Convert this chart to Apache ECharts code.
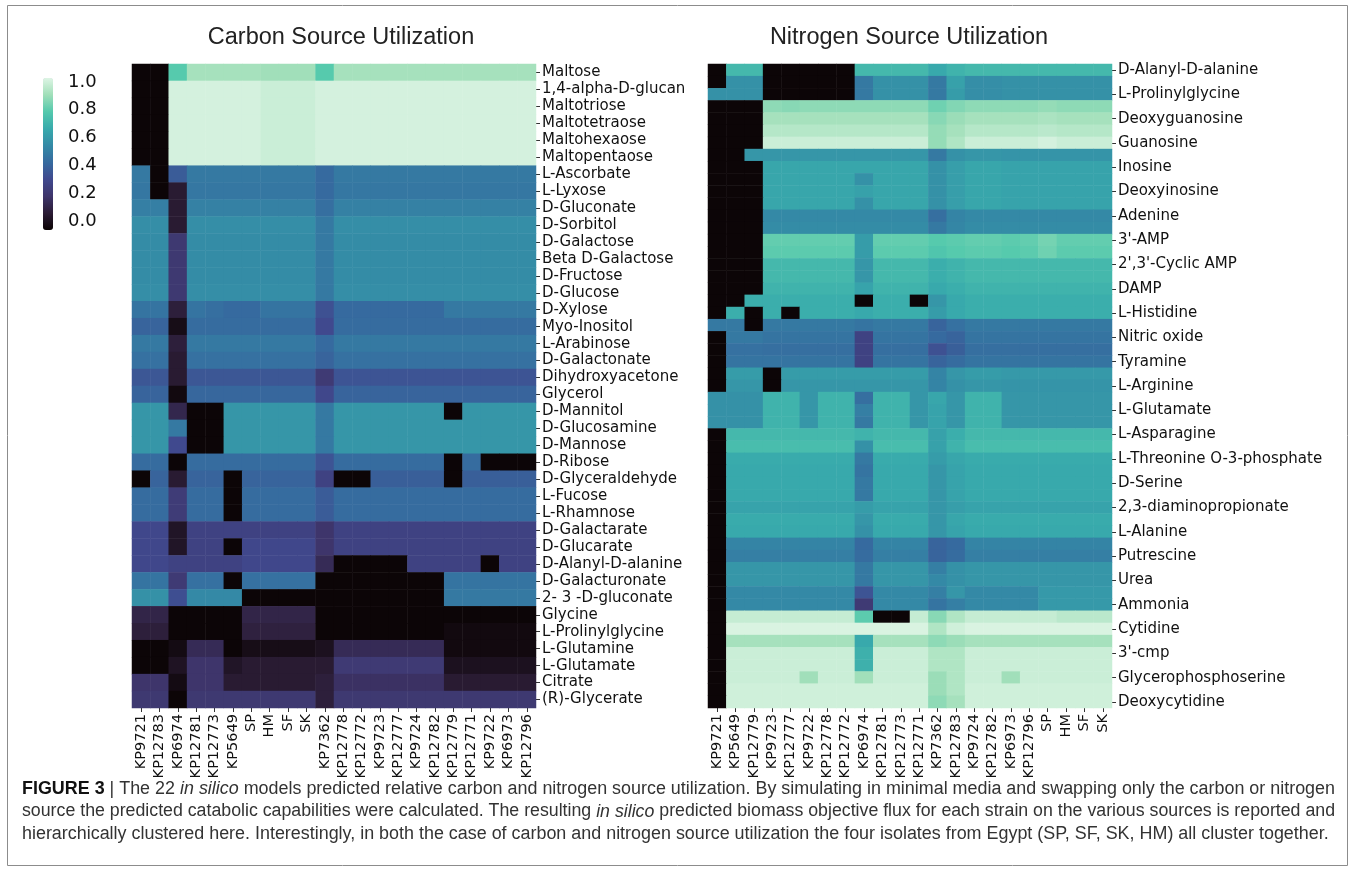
<!DOCTYPE html>
<html><head><meta charset="utf-8">
<script src="https://cdn.jsdelivr.net/npm/echarts@6/dist/echarts.min.js"></script>
<style>html,body{margin:0;padding:0;background:#fff}#c{width:1355px;height:895px}</style>
</head><body><div id="c"></div>
<script>
const Z = -0.06; // black cells (bottom of the colour bar)

const carbonCols = ['KP9721','KP12783','KP6974','KP12781','KP12773','KP5649','SP','HM','SF','SK','KP7362','KP12778','KP12772','KP9723','KP12777','KP9724','KP12782','KP12779','KP12771','KP9722','KP6973','KP12796'];

const carbonRows = ['Maltose','1,4-alpha-D-glucan','Maltotriose','Maltotetraose','Maltohexaose','Maltopentaose','L-Ascorbate','L-Lyxose','D-Gluconate','D-Sorbitol','D-Galactose','Beta D-Galactose','D-Fructose','D-Glucose','D-Xylose','Myo-Inositol','L-Arabinose','D-Galactonate','Dihydroxyacetone','Glycerol','D-Mannitol','D-Glucosamine','D-Mannose','D-Ribose','D-Glyceraldehyde','L-Fucose','L-Rhamnose','D-Galactarate','D-Glucarate','D-Alanyl-D-alanine','D-Galacturonate','2- 3 -D-gluconate','Glycine','L-Prolinylglycine','L-Glutamine','L-Glutamate','Citrate','(R)-Glycerate'];

const carbonValues = [
 [Z,Z,.79, .92,.92,.92, .92,.91,.91,.91, .79, .92,.92,.92,.92,.92,.92, .92,.92,.92,.92,.92],
 [Z,Z,1.01, 1.01,1.01,1.01, 1.01,.99,.99,.99, 1.01, 1.01,1.01,1.01,1.01,1.01,1.01, 1.01,1.01,1.01,1.01,1.01],
 [Z,Z,1.01, 1.01,1.01,1.01, 1.01,.99,.99,.99, 1.01, 1.01,1.01,1.01,1.01,1.01,1.01, 1.01,1.01,1.01,1.01,1.01],
 [Z,Z,1.01, 1.01,1.01,1.01, 1.01,.99,.99,.99, 1.01, 1.01,1.01,1.01,1.01,1.01,1.01, 1.01,1.01,1.01,1.01,1.01],
 [Z,Z,1.01, 1.01,1.01,1.01, 1.01,.99,.99,.99, 1.01, 1.01,1.01,1.01,1.01,1.01,1.01, 1.01,1.01,1.01,1.01,1.01],
 [Z,Z,1.01, 1.01,1.01,1.01, 1.01,.99,.99,.99, 1.01, 1.01,1.01,1.01,1.01,1.01,1.01, 1.01,1.01,1.01,1.01,1.01],
 [.48,Z,.37, .48,.48,.48, .48,.48,.48,.48, .42, .48,.48,.48,.48,.48,.48, .48,.48,.48,.48,.48],
 [.47,Z,.05, .47,.47,.47, .47,.47,.47,.47, .42, .47,.47,.47,.47,.47,.47, .47,.47,.47,.47,.47],
 [.5,.5,.05, .51,.51,.51, .51,.51,.51,.51, .44, .51,.51,.51,.51,.51,.51, .51,.51,.51,.51,.51],
 [.56,.56,.05, .56,.56,.56, .56,.56,.56,.56, .48, .56,.56,.56,.56,.56,.56, .56,.56,.56,.56,.56],
 [.55,.55,.2, .55,.55,.55, .55,.55,.55,.55, .48, .55,.55,.55,.55,.55,.55, .55,.55,.55,.55,.55],
 [.55,.55,.2, .55,.55,.55, .55,.55,.55,.55, .48, .55,.55,.55,.55,.55,.55, .55,.55,.55,.55,.55],
 [.55,.55,.2, .55,.55,.55, .55,.55,.55,.55, .48, .55,.55,.55,.55,.55,.55, .55,.55,.55,.55,.55],
 [.56,.56,.2, .56,.56,.56, .56,.56,.56,.56, .48, .56,.56,.56,.56,.56,.56, .56,.56,.56,.56,.56],
 [.46,.46,.07, .46,.44,.42, .42,.46,.46,.46, .33, .42,.42,.42,.42,.42,.42, .48,.48,.48,.48,.48],
 [.4,.4,-.02, .43,.43,.43, .43,.43,.43,.43, .3, .43,.43,.43,.43,.43,.43, .43,.43,.43,.43,.43],
 [.48,.48,.07, .48,.48,.48, .48,.48,.48,.48, .42, .48,.48,.48,.48,.48,.48, .48,.48,.48,.48,.48],
 [.45,.45,.05, .45,.45,.45, .45,.45,.45,.45, .4, .45,.45,.45,.45,.45,.45, .45,.45,.45,.45,.45],
 [.35,.35,.05, .35,.35,.35, .35,.35,.35,.35, .21, .34,.34,.34,.34,.34,.34, .34,.34,.34,.34,.34],
 [.4,.4,-.04, .41,.41,.41, .41,.41,.41,.41, .29, .4,.4,.4,.4,.4,.4, .4,.4,.4,.4,.4],
 [.59,.59,.11, Z,Z,.59, .59,.59,.59,.59, .48, .59,.59,.59,.59,.59,.59, Z,.59,.59,.59,.59],
 [.59,.59,.48, Z,Z,.59, .59,.59,.59,.59, .48, .59,.59,.59,.59,.59,.59, .59,.59,.59,.59,.59],
 [.59,.59,.3, Z,Z,.59, .59,.59,.59,.59, .48, .59,.59,.59,.59,.59,.59, .59,.59,.59,.59,.59],
 [.43,.43,Z, .43,.43,.43, .43,.43,.43,.43, .34, .43,.43,.43,.43,.43,.43, Z,.43,Z,Z,Z],
 [Z,.4,.05, .4,.4,Z, .4,.4,.4,.4, .26, Z,Z,.38,.38,.38,.38, Z,.38,.38,.38,.38],
 [.43,.43,.22, .43,.43,Z, .43,.43,.43,.43, .37, .43,.43,.43,.43,.43,.43, .43,.43,.43,.43,.43],
 [.43,.43,.22, .43,.43,Z, .43,.43,.43,.43, .37, .43,.43,.43,.43,.43,.43, .43,.43,.43,.43,.43],
 [.29,.29,.02, .26,.26,.26, .26,.26,.26,.26, .18, .26,.26,.26,.26,.26,.26, .26,.26,.26,.26,.26],
 [.29,.29,.02, .26,.26,Z, .29,.29,.29,.29, .18, .26,.26,.26,.26,.26,.26, .26,.26,.26,.26,.26],
 [.29,.29,.26, .26,.26,.26, .29,.29,.29,.29, .13, Z,Z,Z,Z,.26,.26, .26,.26,Z,.26,.26],
 [.46,.46,.21, .45,.45,Z, .45,.45,.45,.45, Z, Z,Z,Z,Z,Z,Z, .46,.46,.46,.46,.46],
 [.57,.57,.32, .54,.54,.54, Z,Z,Z,Z, Z, Z,Z,Z,Z,Z,Z, .48,.48,.48,.48,.48],
 [.1,.1,Z, Z,Z,Z, .1,.1,.1,.1, Z, Z,Z,Z,Z,Z,Z, Z,Z,Z,Z,Z],
 [.07,.07,Z, Z,Z,Z, .08,.08,.08,.08, Z, Z,Z,Z,Z,Z,Z, -.04,-.04,-.04,-.04,-.04],
 [Z,Z,-.03, .13,.13,Z, -.02,-.02,-.02,-.02, 0, .13,.13,.13,.13,.13,.13, -.04,-.04,-.04,-.04,-.04],
 [Z,Z,.01, .18,.18,.02, .05,.05,.05,.05, .05, .21,.21,.21,.21,.21,.21, 0,0,0,0,0],
 [.18,.18,-.03, .18,.18,.05, .05,.05,.05,.05, .07, .16,.16,.16,.16,.16,.16, .05,.05,.05,.05,.05],
 [.2,.2,Z, .2,.2,.2, .2,.2,.2,.2, .07, .2,.2,.2,.2,.2,.2, .2,.2,.2,.2,.2]
];

const nitrogenCols = ['KP9721','KP5649','KP12779','KP9723','KP12777','KP9722','KP12778','KP12772','KP6974','KP12781','KP12773','KP12771','KP7362','KP12783','KP9724','KP12782','KP6973','KP12796','SP','HM','SF','SK'];

// only every second row carries a visible label in the figure
const nitrogenRows = ['D-Alanyl-D-alanine','','L-Prolinylglycine','','Deoxyguanosine','','Guanosine','','Inosine','','Deoxyinosine','','Adenine','',"3'-AMP",'',"2',3'-Cyclic AMP",'','DAMP','','L-Histidine','','Nitric oxide','','Tyramine','','L-Arginine','','L-Glutamate','','L-Asparagine','','L-Threonine O-3-phosphate','','D-Serine','','2,3-diaminopropionate','','L-Alanine','','Putrescine','','Urea','','Ammonia','','Cytidine','',"3'-cmp",'','Glycerophosphoserine','','Deoxycytidine'];

const nitrogenValues = [
 [Z,.72,.72, Z,Z,Z,Z,Z, .72, .72,.72,.72, .66,.7, .72,.72,.72,.72, .72,.72,.72,.72],
 [Z,.57,.57, Z,Z,Z,Z,Z, .48, .57,.57,.57, .48,.63, .56,.56,.57,.57, .57,.57,.57,.57],
 [.57,.57,.57, Z,Z,Z,Z,Z, .48, .57,.57,.57, .48,.61, .56,.56,.57,.57, .57,.57,.57,.57],
 [Z,Z,Z, .88,.87,.88,.88,.88, .88, .88,.88,.88, .83,.86, .88,.88,.88,.88, .89,.88,.88,.88],
 [Z,Z,Z, .92,.92,.92,.92,.92, .92, .92,.92,.92, .87,.9, .92,.92,.92,.92, .93,.92,.92,.92],
 [Z,Z,Z, .95,.95,.95,.95,.95, .95, .95,.95,.95, .89,.92, .95,.95,.95,.95, .96,.95,.95,.95],
 [Z,Z,Z, .99,.99,.99,.99,.99, .99, .99,.99,.99, .89,.94, .99,.99,.99,.99, 1.01,.99,.99,.99],
 [Z,Z,.59, .59,.59,.59,.59,.59, .59, .59,.59,.59, .48,.57, .59,.59,.58,.58, .58,.58,.58,.58],
 [Z,Z,Z, .65,.65,.65,.65,.65, .65, .65,.65,.65, .57,.62, .65,.65,.64,.64, .64,.64,.64,.64],
 [Z,Z,Z, .65,.65,.65,.65,.65, .57, .65,.65,.65, .57,.62, .65,.65,.64,.64, .64,.64,.64,.64],
 [Z,Z,Z, .65,.65,.65,.65,.65, .63, .65,.65,.65, .57,.62, .65,.65,.64,.64, .64,.64,.64,.64],
 [Z,Z,Z, .65,.65,.65,.65,.65, .57, .65,.65,.65, .57,.62, .65,.65,.64,.64, .64,.64,.64,.64],
 [Z,Z,Z, .54,.54,.54,.54,.54, .54, .54,.54,.54, .44,.52, .54,.54,.54,.54, .54,.54,.54,.54],
 [Z,Z,Z, .55,.55,.55,.55,.55, .55, .55,.55,.55, .48,.53, .55,.55,.55,.55, .55,.55,.55,.55],
 [Z,Z,Z, .81,.81,.81,.81,.81, .61, .81,.81,.81, .79,.8, .81,.81,.8,.81, .84,.81,.81,.81],
 [Z,Z,Z, .8,.8,.8,.8,.8, .61, .8,.8,.8, .77,.79, .8,.8,.79,.8, .83,.8,.8,.8],
 [Z,Z,Z, .72,.72,.72,.72,.72, .59, .72,.72,.72, .68,.7, .72,.72,.72,.72, .72,.72,.72,.72],
 [Z,Z,Z, .72,.72,.72,.72,.72, .59, .72,.72,.72, .68,.7, .72,.72,.72,.72, .72,.72,.72,.72],
 [Z,Z,Z, .7,.7,.7,.7,.7, .64, .7,.7,.7, .66,.68, .7,.7,.7,.7, .7,.7,.7,.7],
 [Z,Z,.68, .68,.68,.68,.68,.68, Z, .68,.68,Z, .59,.66, .68,.68,.68,.68, .68,.68,.68,.68],
 [Z,.68,Z, .68,Z,.68,.68,.68, .66, .68,.68,.68, .61,.66, .68,.68,.68,.68, .68,.68,.68,.68],
 [.48,.48,Z, .48,.48,.48,.48,.48, .46, .48,.48,.48, .4,.45, .48,.48,.48,.48, .48,.48,.48,.48],
 [Z,.48,.48, .46,.46,.46,.46,.46, .26, .46,.46,.46, .42,.4, .46,.46,.46,.46, .46,.46,.46,.46],
 [Z,.45,.45, .44,.44,.44,.44,.44, .26, .44,.44,.44, .33,.38, .44,.44,.44,.44, .44,.44,.44,.44],
 [Z,.46,.46, .46,.46,.46,.46,.46, .26, .46,.46,.46, .4,.43, .46,.46,.46,.46, .46,.46,.46,.46],
 [Z,.61,.61, Z,.61,.61,.61,.61, .61, .61,.61,.61, .52,.59, .61,.61,.6,.6, .6,.6,.6,.6],
 [Z,.59,.59, Z,.59,.59,.59,.59, .59, .59,.59,.59, .52,.57, .59,.59,.58,.58, .58,.58,.58,.58],
 [.57,.57,.57, .7,.7,.59,.7,.7, .44, .7,.7,.59, .65,.59, .7,.7,.59,.59, .59,.59,.59,.59],
 [.57,.57,.57, .7,.7,.59,.7,.7, .5, .7,.7,.59, .64,.59, .7,.7,.59,.59, .59,.59,.59,.59],
 [.57,.57,.57, .7,.7,.59,.7,.7, .48, .7,.7,.59, .64,.59, .7,.7,.59,.59, .59,.59,.59,.59],
 [Z,.72,.72, .72,.72,.72,.72,.72, .7, .72,.72,.72, .63,.68, .72,.72,.72,.72, .72,.72,.72,.72],
 [Z,.74,.74, .74,.74,.74,.74,.74, .57, .74,.74,.74, .63,.7, .74,.74,.74,.74, .74,.74,.74,.74],
 [Z,.67,.67, .67,.67,.67,.67,.67, .48, .67,.67,.67, .61,.65, .67,.67,.67,.67, .67,.67,.67,.67],
 [Z,.66,.66, .66,.66,.66,.66,.66, .46, .66,.66,.66, .59,.64, .66,.66,.66,.66, .66,.66,.66,.66],
 [Z,.66,.66, .66,.66,.66,.66,.66, .48, .66,.66,.66, .59,.64, .66,.66,.66,.66, .66,.66,.66,.66],
 [Z,.66,.66, .66,.66,.66,.66,.66, .48, .66,.66,.66, .59,.64, .66,.66,.66,.66, .66,.66,.66,.66],
 [Z,.64,.64, .64,.64,.64,.64,.64, .61, .64,.64,.64, .59,.62, .64,.64,.64,.64, .64,.64,.64,.64],
 [Z,.67,.67, .67,.67,.67,.67,.67, .59, .67,.67,.67, .59,.65, .67,.67,.67,.67, .67,.67,.67,.67],
 [Z,.66,.66, .66,.66,.66,.66,.66, .57, .66,.66,.66, .59,.64, .66,.66,.66,.66, .66,.66,.66,.66],
 [Z,.52,.52, .52,.52,.52,.52,.52, .42, .52,.52,.52, .4,.42, .52,.52,.52,.52, .52,.52,.52,.52],
 [Z,.5,.5, .5,.5,.5,.5,.5, .43, .5,.5,.5, .4,.43, .5,.5,.5,.5, .5,.5,.5,.5],
 [Z,.59,.59, .59,.59,.59,.59,.59, .48, .59,.59,.59, .5,.57, .59,.59,.59,.59, .59,.59,.59,.59],
 [Z,.59,.59, .59,.59,.59,.59,.59, .48, .59,.59,.59, .54,.57, .59,.59,.59,.59, .59,.59,.59,.59],
 [Z,.54,.54, .54,.54,.54,.54,.54, .34, .54,.54,.54, .5,.59, .54,.54,.54,.54, .6,.6,.6,.6],
 [Z,.54,.54, .54,.54,.54,.54,.54, .21, .54,.54,.54, .46,.5, .54,.54,.54,.54, .6,.6,.6,.6],
 [Z,.98,.98, .98,.98,.98,.98,.98, .8, Z,Z,.98, .87,.94, .98,.98,.98,.98, .98,.96,.96,.96],
 [Z,1.02,1.02, 1.02,1.02,1.02,1.02,1.02, 1.02, 1.02,1.02,1.02, .94,1.0, 1.02,1.02,1.02,1.02, 1.02,1.02,1.02,1.02],
 [Z,.92,.92, .92,.92,.92,.92,.92, .66, .92,.92,.92, .88,.9, .92,.92,.92,.92, .92,.92,.92,.92],
 [Z,.99,.99, .99,.99,.99,.99,.99, .69, .99,.99,.99, .94,.94, .99,.99,.99,.99, .99,.99,.99,.99],
 [Z,.99,.99, .99,.99,.99,.99,.99, .69, .99,.99,.99, .94,.94, .99,.99,.99,.99, .99,.99,.99,.99],
 [Z,.99,.99, .99,.99,.91,.99,.99, .91, .99,.99,.99, .9,.94, .99,.99,.91,.99, .99,.99,.99,.99],
 [Z,1.0,1.0, 1.0,1.0,1.0,1.0,1.0, 1.0, 1.0,1.0,1.0, .9,.94, 1.0,1.0,1.0,1.0, 1.0,1.0,1.0,1.0],
 [Z,1.0,1.0, 1.0,1.0,1.0,1.0,1.0, 1.0, 1.0,1.0,1.0, .88,.92, 1.0,1.0,1.0,1.0, 1.0,1.0,1.0,1.0]
];

const colorbarMin = -0.065;
const colorbarMax = 1.03;
const makoColors = ['#0B0405','#2B1C35','#3E356B','#40498E','#366A9F','#348AA6','#38AAAC','#54C9AD','#A0DFB9','#DEF5E5'];

const titles = ['Carbon Source Utilization', 'Nitrogen Source Utilization'];
const captionLines = [
  '{b|FIGURE 3} | The 22 {i|in silico} models predicted relative carbon and nitrogen source utilization. By simulating in minimal media and swapping only the carbon or nitrogen',
  'source the predicted catabolic capabilities were calculated. The resulting {i|in silico} predicted biomass objective flux for each strain on the various sources is reported and',
  'hierarchically clustered here. Interestingly, in both the case of carbon and nitrogen source utilization the four isolates from Egypt (SP, SF, SK, HM) all cluster together.'
];

function toCells(vals) {
  const out = [];
  vals.forEach((row, i) => row.forEach((v, j) => out.push([j, i, v])));
  return out;
}

// caption condensing: measure natural width
const CAP_SIZE = 18;
const CAP_FONT = CAP_SIZE + 'px "Liberation Sans"';
const mctx = document.createElement('canvas').getContext('2d');
mctx.font = CAP_FONT;
const plain = s => s.replace(/\{[bi]\|([^}]*)\}/g, '$1');
const w1 = mctx.measureText(plain(captionLines[0])).width;
const w2 = mctx.measureText(plain(captionLines[1])).width;
const capScale1 = 1313 / w1;
const capScale2 = 1313 / w2;
const capScales = [capScale1, capScale2, capScale1];
const capRich = {
  b: {fontWeight: 'bold', fontFamily: 'Liberation Sans', fontSize: CAP_SIZE, fill: '#111'},
  i: {fontStyle: 'italic', fontFamily: 'Liberation Sans', fontSize: CAP_SIZE, fill: '#333'}
};

const xLabelFont = {fontFamily: 'DejaVu Sans', fontSize: 14.5, color: '#111'};
const yLabelFont = {fontFamily: 'DejaVu Sans', fontSize: 15, color: '#111'};
const tickStyle = {color: '#333', width: 1};

const chart = echarts.init(document.getElementById('c'), null, {renderer: 'canvas'});

const option = {
  animation: false,
  backgroundColor: '#ffffff',
  grid: [
    {left: 132, top: 64, width: 404, height: 644},
    {left: 708, top: 64, width: 404, height: 644},
    {left: 43, top: 82, width: 17, height: 139}
  ],
  xAxis: [
    {type: 'category', gridIndex: 0, data: carbonCols, position: 'bottom',
     axisLine: {show: false}, splitLine: {show: false},
     axisTick: {show: true, alignWithLabel: true, length: 4, interval: 0, lineStyle: tickStyle},
     axisLabel: Object.assign({rotate: 90, interval: 0, margin: 6}, xLabelFont)},
    {type: 'category', gridIndex: 1, data: nitrogenCols, position: 'bottom',
     axisLine: {show: false}, splitLine: {show: false},
     axisTick: {show: true, alignWithLabel: true, length: 4, interval: 0, lineStyle: tickStyle},
     axisLabel: Object.assign({rotate: 90, interval: 0, margin: 6}, xLabelFont)},
    {type: 'value', gridIndex: 2, show: false, min: 0, max: 1}
  ],
  yAxis: [
    {type: 'category', gridIndex: 0, data: carbonRows, inverse: true, position: 'right',
     axisLine: {show: false}, splitLine: {show: false},
     axisTick: {show: true, alignWithLabel: true, length: 4, interval: 0, lineStyle: tickStyle},
     axisLabel: Object.assign({interval: 0, margin: 6}, yLabelFont)},
    {type: 'category', gridIndex: 1, data: nitrogenRows, inverse: true, position: 'right',
     axisLine: {show: false}, splitLine: {show: false},
     axisTick: {show: true, alignWithLabel: true, length: 4, interval: 1, lineStyle: tickStyle},
     axisLabel: Object.assign({interval: 1, margin: 6}, yLabelFont)},
    {type: 'value', gridIndex: 2, min: 0, max: 1, interval: 0.2, position: 'right',
     axisLine: {show: false}, splitLine: {show: false},
     axisTick: {show: true, length: 4, lineStyle: tickStyle},
     axisLabel: {fontFamily: 'DejaVu Sans', fontSize: 18, color: '#111', margin: 8,
                 formatter: v => v.toFixed(1)}}
  ],
  visualMap: {
    type: 'continuous', min: colorbarMin, max: colorbarMax, seriesIndex: [0, 1],
    inRange: {color: makoColors}, show: true, calculable: false, hoverLink: false,
    left: 43, top: 78, itemWidth: 10, itemHeight: 152, padding: 0, text: null
  },
  series: [
    {type: 'heatmap', xAxisIndex: 0, yAxisIndex: 0, data: toCells(carbonValues),
     emphasis: {disabled: true}, progressive: 0},
    {type: 'heatmap', xAxisIndex: 1, yAxisIndex: 1, data: toCells(nitrogenValues),
     emphasis: {disabled: true}, progressive: 0}
  ],
  graphic: [
    {type: 'rect', silent: true, z: -10,
     shape: {x: 7.5, y: 5.5, width: 1340, height: 860},
     style: {fill: 'none', stroke: '#8c8c8c', lineWidth: 1}},
    {type: 'text', x: 341, y: 38, silent: true,
     style: {text: titles[0], font: '23.5px "Liberation Sans"', fill: '#222', textAlign: 'center', textVerticalAlign: 'middle'}},
    {type: 'text', x: 909, y: 38, silent: true,
     style: {text: titles[1], font: '23.5px "Liberation Sans"', fill: '#222', textAlign: 'center', textVerticalAlign: 'middle'}}
  ].concat(captionLines.map((t, k) => ({
    type: 'text', x: 22, y: 789 + k * 22.5, scaleX: capScales[k], silent: true,
    style: {text: t, font: CAP_FONT, fill: '#333', textVerticalAlign: 'middle', rich: capRich}
  })))
};

chart.setOption(option);
</script>
</body></html>
